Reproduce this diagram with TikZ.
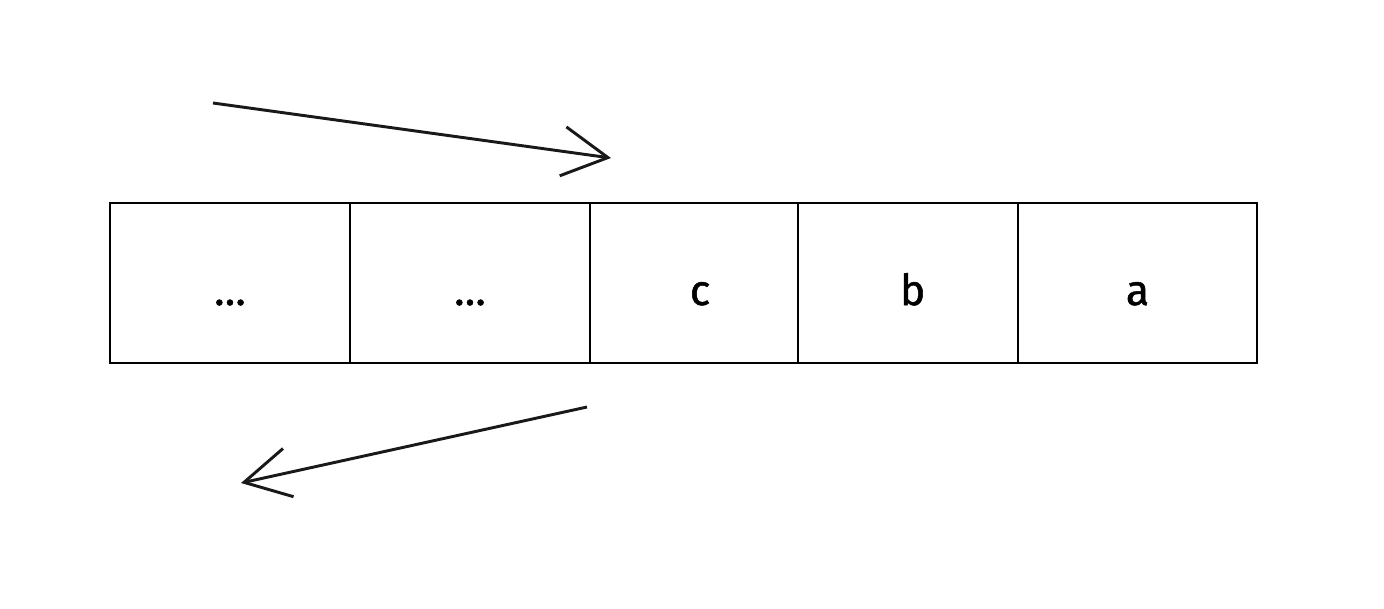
\documentclass[tikz,border=0pt]{standalone}
\usepackage{fontspec}
\setmainfont{Fira Sans}
\newfontfamily\labfont{Fira Sans}[FakeBold=1.2]
\usetikzlibrary{arrows.meta}
\begin{document}
\begin{tikzpicture}[x=0.75pt,y=-0.75pt,
  cell/.style={draw=black,line width=1.9pt,inner sep=0pt,minimum height=120pt,
    text height=33pt,text depth=0pt,font=\labfont\fontsize{32}{38}\selectfont},
  flow/.style={line width=2.2pt,draw={black!90},-{Straight Barb[length=34pt,width=37pt,line width=2.2pt]}}]
\useasboundingbox[fill=white] (0,0) rectangle (1384,608);
\node[cell,minimum width=180pt] (c1) at (230,283) {…};
\node[cell,minimum width=180pt] (c2) at (470,283) {…};
\node[cell,minimum width=156pt] (c3) at (694,283) {\hspace*{9pt}c};
\node[cell,minimum width=165pt] (c4) at (908,283) {\hspace*{7pt}b};
\node[cell,minimum width=179.25pt] (c5) at (1137.5,283) {a};
\coordinate (s1) at (213,103);
\coordinate (e1) at (611,158);
\coordinate (s2) at (587,407);
\coordinate (e2) at (241,483);
\draw[flow] (s1) -- (e1);
\draw[flow] (s2) -- (e2);
\end{tikzpicture}
\end{document}
